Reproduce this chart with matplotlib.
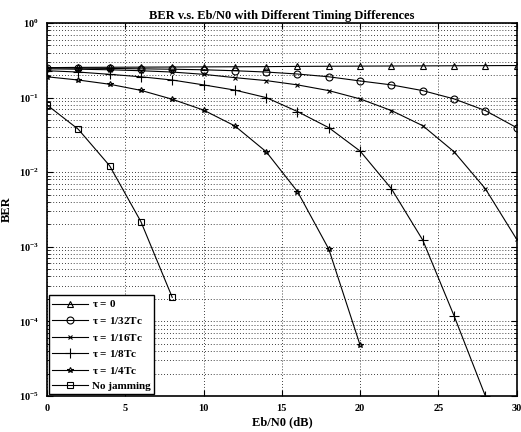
import numpy as np
import matplotlib
matplotlib.use('Agg')
import matplotlib.pyplot as plt
from matplotlib.ticker import LogLocator, FixedLocator

plt.rcParams['font.family'] = ['Liberation Serif', 'DejaVu Serif']
plt.rcParams['font.weight'] = 'bold'
plt.rcParams['mathtext.fontset'] = 'custom'
plt.rcParams['mathtext.rm'] = 'Liberation Serif:bold'
plt.rcParams['mathtext.it'] = 'Liberation Serif:bold'
plt.rcParams['mathtext.bf'] = 'Liberation Serif:bold'

# Eb/N0 (dB)
snr = [0, 2, 4, 6, 8, 10, 12, 14, 16, 18, 20, 22, 24, 26, 28, 30]

ber_tau0 = [0.252, 0.254, 0.255, 0.256, 0.257, 0.258, 0.259, 0.260,
            0.262, 0.263, 0.264, 0.265, 0.266, 0.267, 0.268, 0.269]
ber_tau32 = [0.250, 0.248, 0.246, 0.243, 0.240, 0.236, 0.229, 0.220,
             0.207, 0.190, 0.167, 0.148, 0.124, 0.096, 0.067, 0.0395]
ber_tau16 = [0.243, 0.240, 0.236, 0.229, 0.220, 0.205, 0.185, 0.169,
             0.148, 0.124, 0.096, 0.067, 0.042, 0.0188, 0.006, 0.00126]
ber_tau8 = [0.229, 0.220, 0.205, 0.190, 0.172, 0.148, 0.126, 0.100,
            0.065, 0.0395, 0.0192, 0.006, 0.00123, 0.000119, 1.0e-5]
ber_tau4 = [0.19, 0.172, 0.151, 0.125, 0.095, 0.068, 0.0417, 0.0188,
            0.0055, 0.00093, 4.8e-5]
ber_nojam = [0.0796, 0.0376, 0.0122, 0.00217, 0.00021]

series = [
    (ber_tau0, '^', 5, r'$\mathbf{\tau}$ = 0'),
    (ber_tau32, 'o', 5, r'$\mathbf{\tau}$ = 1/32Tc'),
    (ber_tau16, 'x', 3, r'$\mathbf{\tau}$ = 1/16Tc'),
    (ber_tau8, '+', 6.5, r'$\mathbf{\tau}$ = 1/8Tc'),
    (ber_tau4, '*', 4, r'$\mathbf{\tau}$ = 1/4Tc'),
    (ber_nojam, 's', 5, 'No jamming'),
]

fig = plt.figure(figsize=(5.21, 4.32), dpi=100)
ax = fig.add_axes([0.0902, 0.0833, 0.9015, 0.8635])

for ys, mk, ms, label in series:
    xs = snr[:len(ys)]
    ax.semilogy(xs, ys, color='black', linewidth=0.8, marker=mk,
                markersize=ms, markerfacecolor='none', markeredgecolor='black',
                markeredgewidth=0.8, label=label)

ax.set_xlim(0, 30)
ax.set_ylim(1e-5, 1)
ax.xaxis.set_major_locator(FixedLocator([0, 5, 10, 15, 20, 25, 30]))
ax.yaxis.set_major_locator(LogLocator(base=10, numticks=10))
ax.yaxis.set_minor_locator(LogLocator(base=10, subs=np.arange(2, 10), numticks=20))
ax.yaxis.set_minor_formatter(plt.NullFormatter())

grid_style = dict(linestyle=(0, (1, 2.5)), color='black', linewidth=0.6)
ax.grid(True, which='major', **grid_style)
ax.grid(True, which='minor', axis='y', **grid_style)

ax.tick_params(which='both', direction='in', top=True, right=True,
               labelsize=7.5, pad=6)
ax.tick_params(which='major', length=4)
ax.tick_params(which='minor', length=2)
for s in ax.spines.values():
    s.set_linewidth(1.2)

ax.set_title('BER v.s. Eb/N0 with Different Timing Differences',
             fontsize=9, fontweight='bold', pad=3)
ax.set_xlabel('Eb/N0 (dB)', fontsize=9, fontweight='bold', labelpad=2)
ax.set_ylabel('BER', fontsize=9, fontweight='bold', labelpad=4)

leg = ax.legend(loc='lower left', fontsize=8, fancybox=False, framealpha=1,
                edgecolor='black', borderaxespad=0.15, handlelength=3.2,
                labelspacing=0.5, handletextpad=0.4, borderpad=0.3)
leg.get_frame().set_linewidth(1.0)

fig.savefig('out.png', dpi=100)
